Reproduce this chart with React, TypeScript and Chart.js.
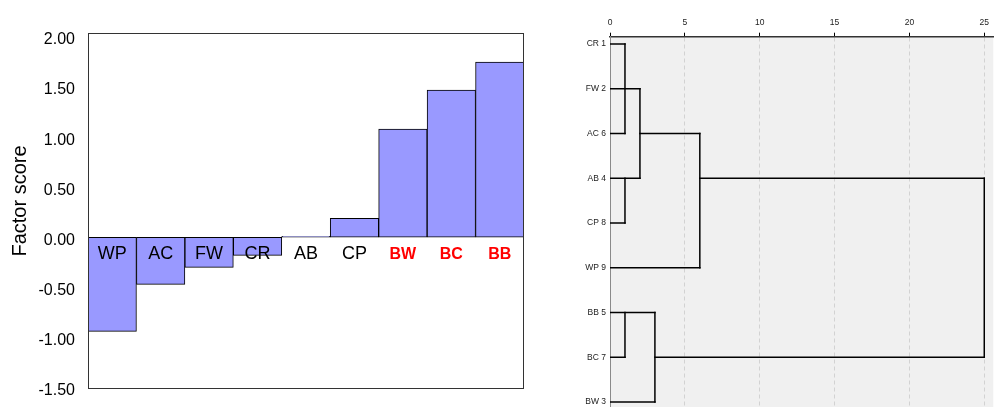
import React, { useEffect, useRef } from "react";
import { Chart, registerables } from "chart.js";

Chart.register(...registerables);

const FONT = "'Liberation Sans', Arial, Helvetica, sans-serif";

// ---- Left panel: factor scores ----
const categories = ["WP", "AC", "FW", "CR", "AB", "CP", "BW", "BC", "BB"];
const factorScores = [-0.94, -0.47, -0.3, -0.18, 0.01, 0.19, 1.08, 1.47, 1.75];
const highlighted = ["BW", "BC", "BB"];
const scoreTicks = [-1.5, -1.0, -0.5, 0, 0.5, 1.0, 1.5, 2.0];
const scoreTitle = "Factor score";

// ---- Right panel: dendrogram (rescaled distance) ----
const leaves = ["CR 1", "FW 2", "AC 6", "AB 4", "CP 8", "WP 9", "BB 5", "BC 7", "BW 3"];
const distanceTicks = [0, 5, 10, 15, 20, 25];
// horizontal links: [leaf row, from distance, to distance]
const horizontalLinks = [
  [0, 0, 1],
  [1, 0, 2],
  [2, 0, 1],
  [2, 2, 6],
  [3, 0, 2],
  [3, 6, 25],
  [4, 0, 1],
  [5, 0, 6],
  [6, 0, 3],
  [7, 0, 1],
  [7, 3, 25],
  [8, 0, 3],
];
// vertical links: [distance, from leaf row, to leaf row]
const verticalLinks = [
  [1, 0, 2],
  [1, 3, 4],
  [1, 6, 7],
  [2, 1, 3],
  [6, 2, 5],
  [3, 6, 8],
  [25, 3, 7],
];

export default function App() {
  const leftRef = useRef<HTMLCanvasElement | null>(null);
  const rightRef = useRef<HTMLCanvasElement | null>(null);

  useEffect(() => {
    const framePlugin = {
      id: "frame",
      afterDatasetsDraw(chart: any) {
        const { ctx, chartArea } = chart;
        ctx.save();
        ctx.strokeStyle = "#333";
        ctx.lineWidth = 1;
        ctx.strokeRect(
          Math.round(chartArea.left) + 0.5,
          Math.round(chartArea.top) + 0.5,
          Math.round(chartArea.right - chartArea.left) - 1,
          Math.round(chartArea.bottom - chartArea.top) - 1
        );
        ctx.restore();
      },
    };

    const catLabelPlugin = {
      id: "catLabels",
      afterDatasetsDraw(chart: any) {
        const { ctx } = chart;
        const xs = chart.scales.x;
        const ys = chart.scales.y;
        const y0 = ys.getPixelForValue(0) + 17;
        ctx.save();
        ctx.textAlign = "center";
        ctx.textBaseline = "middle";
        categories.forEach((c, i) => {
          const hi = highlighted.includes(c);
          ctx.font = hi ? `bold 16px ${FONT}` : `18px ${FONT}`;
          ctx.fillStyle = hi ? "#ff0000" : "#000";
          ctx.fillText(c, xs.getPixelForValue(i), y0);
        });
        ctx.restore();
      },
    };

    const titlePlugin = {
      id: "yTitle",
      afterDraw(chart: any) {
        const { ctx } = chart;
        ctx.save();
        ctx.translate(20, 201);
        ctx.rotate(-Math.PI / 2);
        ctx.font = `20px ${FONT}`;
        ctx.fillStyle = "#000";
        ctx.textAlign = "center";
        ctx.textBaseline = "middle";
        ctx.fillText(scoreTitle, 0, 0);
        ctx.restore();
      },
    };

    const left = new Chart(leftRef.current as HTMLCanvasElement, {
      type: "bar",
      data: {
        labels: categories,
        datasets: [
          {
            data: factorScores,
            backgroundColor: "#9999ff",
            borderColor: "#000",
            borderWidth: 1,
            borderSkipped: false,
            barPercentage: 1,
            categoryPercentage: 1,
          },
        ],
      },
      options: {
        animation: false,
        responsive: false,
        maintainAspectRatio: false,
        layout: { padding: { left: 0, top: 33, right: 36, bottom: 18 } },
        plugins: { legend: { display: false }, tooltip: { enabled: false } },
        scales: {
          x: { display: false },
          y: {
            min: -1.515,
            max: 2.04,
            afterBuildTicks: (s: any) => {
              s.ticks = scoreTicks.map((v) => ({ value: v }));
            },
            afterFit: (s: any) => {
              s.width = 88;
              s.paddingTop = 0;
              s.paddingBottom = 0;
            },
            grid: { display: false, drawTicks: false },
            border: { display: false },
            ticks: {
              padding: 13,
              labelOffset: 3,
              color: "#000",
              font: { family: FONT, size: 16 },
              callback: (v: any) => Number(v).toFixed(2),
            },
          },
        },
      } as any,
      plugins: [framePlugin, catLabelPlugin, titlePlugin],
    });

    const bgPlugin = {
      id: "bg",
      beforeDraw(chart: any) {
        const { ctx, chartArea } = chart;
        ctx.save();
        ctx.fillStyle = "#f0f0f0";
        ctx.fillRect(chartArea.left, chartArea.top, chartArea.right - chartArea.left, chartArea.bottom - chartArea.top);
        ctx.restore();
      },
    };

    const lineStyle = {
      borderColor: "#000",
      borderWidth: 1.5,
      pointRadius: 0,
      showLine: true,
      fill: false,
      borderCapStyle: "square",
    };

    const datasets: any[] = [
      ...horizontalLinks.map(([row, a, b]) => ({
        ...lineStyle,
        data: [
          { x: a, y: row },
          { x: b, y: row },
        ],
      })),
      ...verticalLinks.map(([d, r1, r2]) => ({
        ...lineStyle,
        data: [
          { x: d, y: r1 },
          { x: d, y: r2 },
        ],
      })),
    ];

    const right = new Chart(rightRef.current as HTMLCanvasElement, {
      type: "scatter",
      data: { datasets },
      options: {
        animation: false,
        responsive: false,
        maintainAspectRatio: false,
        layout: { padding: { left: 0, top: 0, right: 0, bottom: 13 } },
        plugins: { legend: { display: false }, tooltip: { enabled: false } },
        scales: {
          x: {
            type: "linear",
            position: "top",
            min: 0,
            max: 25.6,
            afterBuildTicks: (s: any) => {
              s.ticks = distanceTicks.map((v) => ({ value: v }));
            },
            afterFit: (s: any) => {
              s.height = 36.7;
            },
            grid: {
              color: (c: any) => (c.tick && c.tick.value === 0 ? "rgba(0,0,0,0)" : "#d2d2d2"),
              tickColor: "#000",
              tickLength: 4,
              tickWidth: 1,
              lineWidth: 1,
            },
            border: { display: true, color: "#333", width: 1.5, dash: [4, 3] },
            ticks: {
              padding: 5,
              color: "#222",
              font: { family: FONT, size: 8.5 },
              callback: (v: any) => String(v),
            },
          },
          y: {
            type: "linear",
            reverse: true,
            min: -0.163,
            max: 8.11,
            afterBuildTicks: (s: any) => {
              s.ticks = leaves.map((_, i) => ({ value: i }));
            },
            afterFit: (s: any) => {
              s.width = 50;
            },
            grid: { display: false, drawTicks: false },
            border: { display: true, color: "#8a8a8a", width: 1 },
            ticks: {
              padding: 4,
              color: "#222",
              font: { family: FONT, size: 8.5 },
              callback: (v: any) => leaves[Number(v)] ?? "",
            },
          },
        },
      } as any,
      plugins: [bgPlugin],
    });

    return () => {
      left.destroy();
      right.destroy();
    };
  }, []);

  return (
    <div
      style={{
        position: "absolute",
        left: 0,
        top: 0,
        width: 994,
        height: 407,
        overflow: "hidden",
        background: "#fff",
      }}
    >
      <canvas
        ref={leftRef}
        width={560}
        height={407}
        style={{ position: "absolute", left: 0, top: 0, width: 560, height: 407 }}
      />
      <canvas
        ref={rightRef}
        width={434}
        height={420}
        style={{ position: "absolute", left: 560, top: 0, width: 434, height: 420 }}
      />
    </div>
  );
}
